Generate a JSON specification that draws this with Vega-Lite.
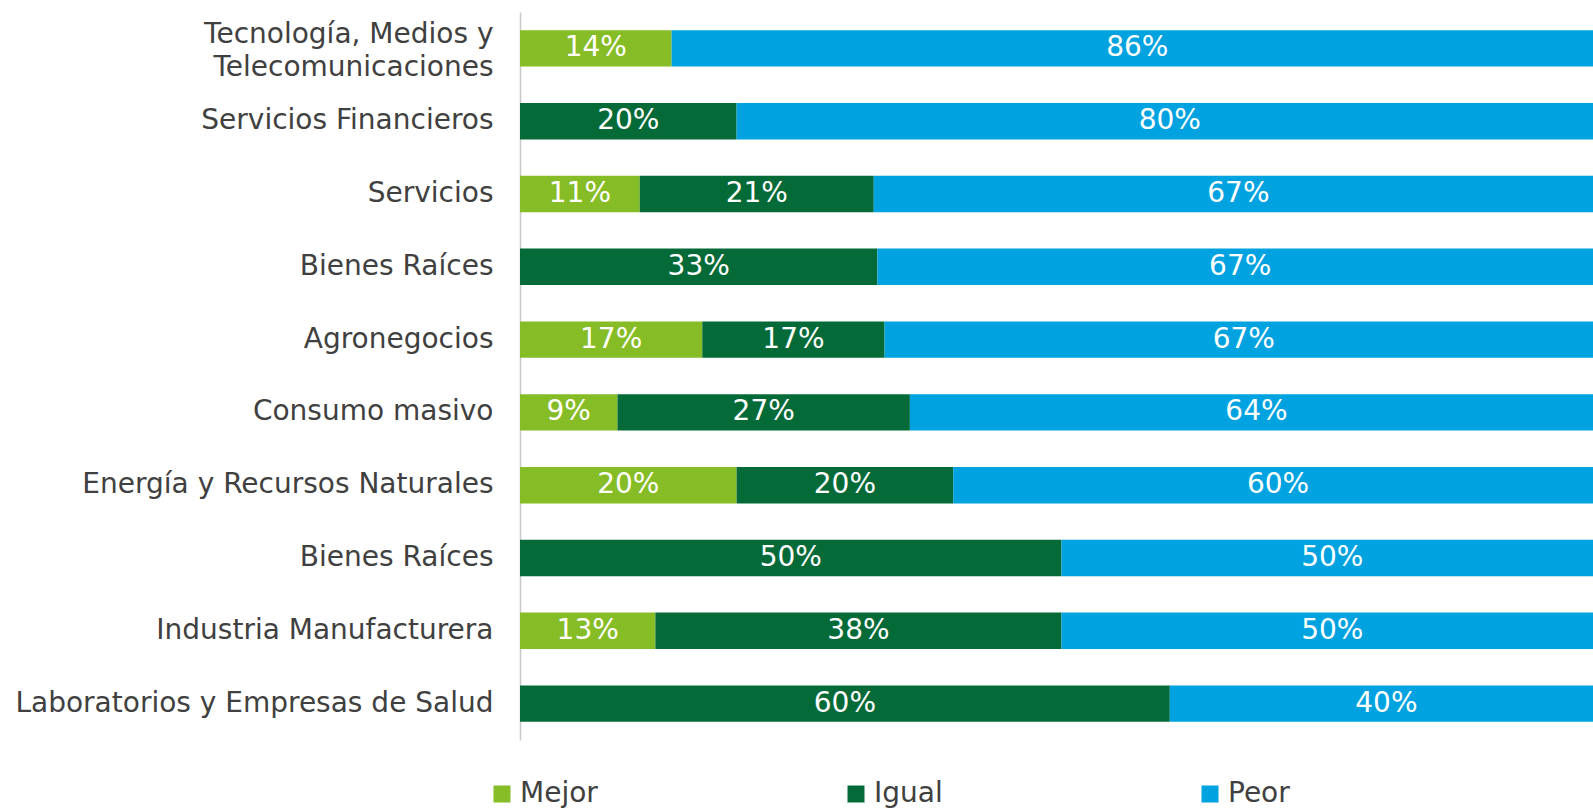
{
  "$schema": "https://vega.github.io/schema/vega-lite/v6.json",
  "width": 1083,
  "height": 728,
  "autosize": {"type": "none"},
  "padding": {"left": 520, "top": 12, "right": 0, "bottom": 68},
  "background": "white",
  "config": {"view": {"stroke": null}, "font": "DejaVu Sans"},
  "data": {
    "values": [
      {"sector": "Tecnología, Medios y Telecomunicaciones", "serie": "Mejor", "ord": 1, "pct": 14, "label": "14%"},
      {"sector": "Tecnología, Medios y Telecomunicaciones", "serie": "Peor", "ord": 3, "pct": 86, "label": "86%"},
      {"sector": "Servicios Financieros", "serie": "Igual", "ord": 2, "pct": 20, "label": "20%"},
      {"sector": "Servicios Financieros", "serie": "Peor", "ord": 3, "pct": 80, "label": "80%"},
      {"sector": "Servicios", "serie": "Mejor", "ord": 1, "pct": 11, "label": "11%"},
      {"sector": "Servicios", "serie": "Igual", "ord": 2, "pct": 21.5, "label": "21%"},
      {"sector": "Servicios", "serie": "Peor", "ord": 3, "pct": 67, "label": "67%"},
      {"sector": "Bienes Raíces", "serie": "Igual", "ord": 2, "pct": 33, "label": "33%"},
      {"sector": "Bienes Raíces", "serie": "Peor", "ord": 3, "pct": 67, "label": "67%"},
      {"sector": "Agronegocios", "serie": "Mejor", "ord": 1, "pct": 17, "label": "17%"},
      {"sector": "Agronegocios", "serie": "Igual", "ord": 2, "pct": 17, "label": "17%"},
      {"sector": "Agronegocios", "serie": "Peor", "ord": 3, "pct": 67, "label": "67%"},
      {"sector": "Consumo masivo", "serie": "Mejor", "ord": 1, "pct": 9, "label": "9%"},
      {"sector": "Consumo masivo", "serie": "Igual", "ord": 2, "pct": 27, "label": "27%"},
      {"sector": "Consumo masivo", "serie": "Peor", "ord": 3, "pct": 64, "label": "64%"},
      {"sector": "Energía y Recursos Naturales", "serie": "Mejor", "ord": 1, "pct": 20, "label": "20%"},
      {"sector": "Energía y Recursos Naturales", "serie": "Igual", "ord": 2, "pct": 20, "label": "20%"},
      {"sector": "Energía y Recursos Naturales", "serie": "Peor", "ord": 3, "pct": 60, "label": "60%"},
      {"sector": "Bienes Raíces ", "serie": "Igual", "ord": 2, "pct": 50, "label": "50%"},
      {"sector": "Bienes Raíces ", "serie": "Peor", "ord": 3, "pct": 50, "label": "50%"},
      {"sector": "Industria Manufacturera", "serie": "Mejor", "ord": 1, "pct": 12.5, "label": "13%"},
      {"sector": "Industria Manufacturera", "serie": "Igual", "ord": 2, "pct": 37.5, "label": "38%"},
      {"sector": "Industria Manufacturera", "serie": "Peor", "ord": 3, "pct": 50, "label": "50%"},
      {"sector": "Laboratorios y Empresas de Salud", "serie": "Igual", "ord": 2, "pct": 60, "label": "60%"},
      {"sector": "Laboratorios y Empresas de Salud", "serie": "Peor", "ord": 3, "pct": 40, "label": "40%"}
    ]
  },
  "encoding": {
    "y": {
      "field": "sector",
      "type": "nominal",
      "sort": null,
      "scale": {"paddingInner": 0.5, "paddingOuter": 0.25},
      "axis": {
        "title": null,
        "ticks": false,
        "domainColor": "#C8C8C8",
        "domainWidth": 1.5,
        "labelFontSize": 28,
        "labelColor": "#404040",
        "labelPadding": 27,
        "labelLimit": 0,
        "labelLineHeight": 33,
        "labelOffset": {"condition": {"test": "datum.value == 'Tecnología, Medios y Telecomunicaciones'", "value": -13}, "value": 0},
        "labelExpr": "datum.value == 'Tecnología, Medios y Telecomunicaciones' ? ['Tecnología, Medios y', 'Telecomunicaciones '] : datum.value"
      }
    }
  },
  "layer": [
    {
      "mark": {"type": "bar"},
      "encoding": {
        "x": {"field": "pct", "type": "quantitative", "stack": "normalize", "axis": null},
        "color": {
          "field": "serie",
          "type": "nominal",
          "scale": {"domain": ["Mejor", "Igual", "Peor"], "range": ["#86BC25", "#046A38", "#00A3E0"]},
          "legend": {
            "title": null,
            "orient": "none",
            "legendX": -32,
            "legendY": 768,
            "direction": "horizontal",
            "columns": 3,
            "columnPadding": 244,
            "gridAlign": "all",
            "symbolType": "square",
            "symbolSize": 289,
            "symbolStrokeWidth": 0,
            "symbolOffset": 0,
            "labelOffset": 4,
            "labelFontSize": 28,
            "labelColor": "#404040",
            "padding": 0
          }
        },
        "order": {"field": "ord"}
      }
    },
    {
      "mark": {"type": "text", "color": "white", "fontSize": 28},
      "encoding": {
        "x": {"field": "pct", "type": "quantitative", "stack": "normalize", "bandPosition": 0.5},
        "text": {"field": "label"},
        "order": {"field": "ord"}
      }
    }
  ]
}
